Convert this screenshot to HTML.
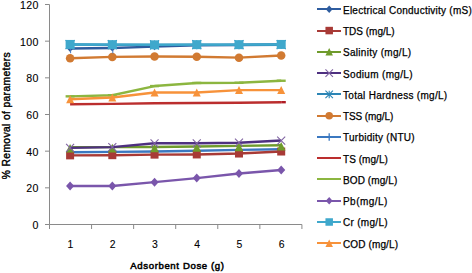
<!DOCTYPE html>
<html><head><meta charset="utf-8"><style>
html,body{margin:0;padding:0;background:#fff;}
body{width:472px;height:273px;position:relative;overflow:hidden;font-family:"Liberation Sans",sans-serif;color:#000;-webkit-text-stroke:0.25px #000;}
svg{position:absolute;left:0;top:0;}
.yl{-webkit-text-stroke:0.1px #000;position:absolute;left:0;width:38.6px;text-align:right;font-size:10.6px;line-height:12px;letter-spacing:0.3px;}
.xl{-webkit-text-stroke:0.1px #000;position:absolute;top:238.6px;width:20px;text-align:center;font-size:10.4px;line-height:12px;}
.lg{position:absolute;left:343px;font-size:10px;line-height:13px;white-space:nowrap;}
.xt{-webkit-text-stroke:0.5px #000;position:absolute;left:130.3px;top:259.4px;font-size:9.6px;font-weight:normal;line-height:13px;white-space:nowrap;letter-spacing:0.62px;}
.yt{-webkit-text-stroke:0.4px #000;position:absolute;left:0;top:0;font-size:10.3px;font-weight:normal;line-height:13px;white-space:nowrap;transform-origin:0 0;letter-spacing:0.36px;}
</style></head><body>
<svg width="472" height="273" viewBox="0 0 472 273">
<path d="M49.5 4.5V224.5H301.92" stroke="#8a8a8a" stroke-width="1" fill="none"/>
<path d="M45 224.50H49.5" stroke="#8a8a8a" stroke-width="1"/>
<path d="M45 187.83H49.5" stroke="#8a8a8a" stroke-width="1"/>
<path d="M45 151.17H49.5" stroke="#8a8a8a" stroke-width="1"/>
<path d="M45 114.50H49.5" stroke="#8a8a8a" stroke-width="1"/>
<path d="M45 77.83H49.5" stroke="#8a8a8a" stroke-width="1"/>
<path d="M45 41.17H49.5" stroke="#8a8a8a" stroke-width="1"/>
<path d="M45 4.50H49.5" stroke="#8a8a8a" stroke-width="1"/>
<path d="M49.50 224.5V229.0" stroke="#8a8a8a" stroke-width="1"/>
<path d="M91.57 224.5V229.0" stroke="#8a8a8a" stroke-width="1"/>
<path d="M133.64 224.5V229.0" stroke="#8a8a8a" stroke-width="1"/>
<path d="M175.71 224.5V229.0" stroke="#8a8a8a" stroke-width="1"/>
<path d="M217.78 224.5V229.0" stroke="#8a8a8a" stroke-width="1"/>
<path d="M259.85 224.5V229.0" stroke="#8a8a8a" stroke-width="1"/>
<path d="M301.92 224.5V229.0" stroke="#8a8a8a" stroke-width="1"/>
<polyline points="70.10,152.25 112.32,151.88 154.54,151.52 196.76,150.78 238.98,149.87 281.20,149.32" stroke="#3b78c0" stroke-width="2.4" fill="none" stroke-linejoin="round"/>
<polyline points="70.10,48.49 112.32,47.94 154.54,46.65 196.76,45.37 238.98,45.00 281.20,44.82" stroke="#2e5c9f" stroke-width="2.4" fill="none" stroke-linejoin="round"/>
<path d="M70.10 44.99L73.25 48.49L70.10 51.99L66.95 48.49Z" fill="#2e5c9f"/>
<path d="M112.32 44.44L115.47 47.94L112.32 51.44L109.17 47.94Z" fill="#2e5c9f"/>
<path d="M154.54 43.15L157.69 46.65L154.54 50.15L151.39 46.65Z" fill="#2e5c9f"/>
<path d="M196.76 41.87L199.91 45.37L196.76 48.87L193.61 45.37Z" fill="#2e5c9f"/>
<path d="M238.98 41.50L242.13 45.00L238.98 48.50L235.83 45.00Z" fill="#2e5c9f"/>
<path d="M281.20 41.32L284.35 44.82L281.20 48.32L278.05 44.82Z" fill="#2e5c9f"/>
<polyline points="70.10,44.54 112.32,44.73 154.54,44.91 196.76,44.73 238.98,44.73 281.20,44.54" stroke="#2c85b5" stroke-width="2.4" fill="none" stroke-linejoin="round"/>
<path d="M70.10 40.04V49.04M65.60 40.04L74.60 49.04M74.60 40.04L65.60 49.04" stroke="#2c85b5" stroke-width="1.1" fill="none"/>
<path d="M112.32 40.23V49.23M107.82 40.23L116.82 49.23M116.82 40.23L107.82 49.23" stroke="#2c85b5" stroke-width="1.1" fill="none"/>
<path d="M154.54 40.41V49.41M150.04 40.41L159.04 49.41M159.04 40.41L150.04 49.41" stroke="#2c85b5" stroke-width="1.1" fill="none"/>
<path d="M196.76 40.23V49.23M192.26 40.23L201.26 49.23M201.26 40.23L192.26 49.23" stroke="#2c85b5" stroke-width="1.1" fill="none"/>
<path d="M238.98 40.23V49.23M234.48 40.23L243.48 49.23M243.48 40.23L234.48 49.23" stroke="#2c85b5" stroke-width="1.1" fill="none"/>
<path d="M281.20 40.04V49.04M276.70 40.04L285.70 49.04M285.70 40.04L276.70 49.04" stroke="#2c85b5" stroke-width="1.1" fill="none"/>
<polyline points="70.10,155.37 112.32,155.18 154.54,154.63 196.76,154.45 238.98,153.53 281.20,151.52" stroke="#a83a36" stroke-width="2.4" fill="none" stroke-linejoin="round"/>
<rect x="66.10" y="151.37" width="8" height="8" fill="#a83a36"/>
<rect x="108.32" y="151.18" width="8" height="8" fill="#a83a36"/>
<rect x="150.54" y="150.63" width="8" height="8" fill="#a83a36"/>
<rect x="192.76" y="150.45" width="8" height="8" fill="#a83a36"/>
<rect x="234.98" y="149.53" width="8" height="8" fill="#a83a36"/>
<rect x="277.20" y="147.52" width="8" height="8" fill="#a83a36"/>
<polyline points="70.10,147.30 112.32,147.12 154.54,146.93 196.76,146.57 238.98,145.83 281.20,145.28" stroke="#6f9b2c" stroke-width="2.4" fill="none" stroke-linejoin="round"/>
<path d="M70.10 144.00L74.40 152.60L65.80 152.60Z" fill="#6f9b2c"/>
<path d="M112.32 143.82L116.62 152.42L108.02 152.42Z" fill="#6f9b2c"/>
<path d="M154.54 143.63L158.84 152.23L150.24 152.23Z" fill="#6f9b2c"/>
<path d="M196.76 143.27L201.06 151.87L192.46 151.87Z" fill="#6f9b2c"/>
<path d="M238.98 142.53L243.28 151.13L234.68 151.13Z" fill="#6f9b2c"/>
<path d="M281.20 141.98L285.50 150.58L276.90 150.58Z" fill="#6f9b2c"/>
<polyline points="70.10,147.85 112.32,147.12 154.54,143.27 196.76,143.27 238.98,142.72 281.20,140.52" stroke="#4e3080" stroke-width="2.4" fill="none" stroke-linejoin="round"/>
<path d="M66.10 143.85L74.10 151.85M74.10 143.85L66.10 151.85" stroke="#8064a2" stroke-width="1.1" fill="none"/>
<path d="M108.32 143.12L116.32 151.12M116.32 143.12L108.32 151.12" stroke="#8064a2" stroke-width="1.1" fill="none"/>
<path d="M150.54 139.27L158.54 147.27M158.54 139.27L150.54 147.27" stroke="#8064a2" stroke-width="1.1" fill="none"/>
<path d="M192.76 139.27L200.76 147.27M200.76 139.27L192.76 147.27" stroke="#8064a2" stroke-width="1.1" fill="none"/>
<path d="M234.98 138.72L242.98 146.72M242.98 138.72L234.98 146.72" stroke="#8064a2" stroke-width="1.1" fill="none"/>
<path d="M277.20 136.52L285.20 144.52M285.20 136.52L277.20 144.52" stroke="#8064a2" stroke-width="1.1" fill="none"/>
<polyline points="70.10,104.22 112.32,103.85 154.54,103.30 196.76,102.94 238.98,102.75 281.20,102.20" stroke="#bb2e2e" stroke-width="2.4" fill="none" stroke-linejoin="round"/>
<path d="M281.20 102.20H285.80" stroke="#b01c24" stroke-width="2.4"/>
<polyline points="70.10,96.34 112.32,95.24 154.54,86.07 196.76,82.95 238.98,82.77 281.20,80.75" stroke="#8cb640" stroke-width="2.4" fill="none" stroke-linejoin="round"/>
<path d="M65.60 96.34H74.60" stroke="#8cb640" stroke-width="2.4"/>
<path d="M107.82 95.24H116.82" stroke="#8cb640" stroke-width="2.4"/>
<path d="M150.04 86.07H159.04" stroke="#8cb640" stroke-width="2.4"/>
<path d="M192.26 82.95H201.26" stroke="#8cb640" stroke-width="2.4"/>
<path d="M234.48 82.77H243.48" stroke="#8cb640" stroke-width="2.4"/>
<path d="M276.70 80.75H285.70" stroke="#8cb640" stroke-width="2.4"/>
<polyline points="70.10,99.27 112.32,97.44 154.54,92.49 196.76,92.49 238.98,90.10 281.20,90.10" stroke="#f7923a" stroke-width="2.4" fill="none" stroke-linejoin="round"/>
<path d="M70.10 95.27L74.10 103.27L66.10 103.27Z" fill="#f7923a"/>
<path d="M112.32 93.44L116.32 101.44L108.32 101.44Z" fill="#f7923a"/>
<path d="M154.54 88.49L158.54 96.49L150.54 96.49Z" fill="#f7923a"/>
<path d="M196.76 88.49L200.76 96.49L192.76 96.49Z" fill="#f7923a"/>
<path d="M238.98 86.10L242.98 94.10L234.98 94.10Z" fill="#f7923a"/>
<path d="M281.20 86.10L285.20 94.10L277.20 94.10Z" fill="#f7923a"/>
<polyline points="70.10,58.20 112.32,56.92 154.54,56.55 196.76,56.74 238.98,57.65 281.20,55.45" stroke="#d17a32" stroke-width="2.4" fill="none" stroke-linejoin="round"/>
<circle cx="70.10" cy="58.20" r="4.25" fill="#d17a32"/>
<circle cx="112.32" cy="56.92" r="4.25" fill="#d17a32"/>
<circle cx="154.54" cy="56.55" r="4.25" fill="#d17a32"/>
<circle cx="196.76" cy="56.74" r="4.25" fill="#d17a32"/>
<circle cx="238.98" cy="57.65" r="4.25" fill="#d17a32"/>
<circle cx="281.20" cy="55.45" r="4.25" fill="#d17a32"/>
<polyline points="70.10,185.98 112.32,185.98 154.54,182.13 196.76,178.10 238.98,173.52 281.20,170.03" stroke="#7a56ab" stroke-width="2.4" fill="none" stroke-linejoin="round"/>
<path d="M70.10 181.48L74.15 185.98L70.10 190.48L66.05 185.98Z" fill="#7a56ab"/>
<path d="M112.32 181.48L116.37 185.98L112.32 190.48L108.27 185.98Z" fill="#7a56ab"/>
<path d="M154.54 177.63L158.59 182.13L154.54 186.63L150.49 182.13Z" fill="#7a56ab"/>
<path d="M196.76 173.60L200.81 178.10L196.76 182.60L192.71 178.10Z" fill="#7a56ab"/>
<path d="M238.98 169.02L243.03 173.52L238.98 178.02L234.93 173.52Z" fill="#7a56ab"/>
<path d="M281.20 165.53L285.25 170.03L281.20 174.53L277.15 170.03Z" fill="#7a56ab"/>
<polyline points="70.10,44.45 112.32,44.64 154.54,44.82 196.76,44.64 238.98,44.64 281.20,44.45" stroke="#3fa8cc" stroke-width="2.4" fill="none" stroke-linejoin="round"/>
<rect x="65.60" y="39.95" width="9" height="9" fill="#3fa8cc"/>
<path d="M70.60 48.95V53.25" stroke="#4a7cc0" stroke-width="1"/>
<rect x="107.82" y="40.14" width="9" height="9" fill="#3fa8cc"/>
<path d="M112.82 49.14V53.44" stroke="#4a7cc0" stroke-width="1"/>
<rect x="150.04" y="40.32" width="9" height="9" fill="#3fa8cc"/>
<rect x="192.26" y="40.14" width="9" height="9" fill="#3fa8cc"/>
<rect x="234.48" y="40.14" width="9" height="9" fill="#3fa8cc"/>
<rect x="276.70" y="39.95" width="9" height="9" fill="#3fa8cc"/>
<path d="M317 9H341" stroke="#2e5c9f" stroke-width="2"/>
<path d="M329.20 5.55L332.57 9.30L329.20 13.05L325.82 9.30Z" fill="#2e5c9f"/>
<path d="M317 31H341" stroke="#a83a36" stroke-width="2"/>
<rect x="325.45" y="26.82" width="7.5" height="7.5" fill="#a83a36"/>
<path d="M317 52H341" stroke="#6f9b2c" stroke-width="2"/>
<path d="M329.20 48.09L332.95 55.59L325.45 55.59Z" fill="#6f9b2c"/>
<path d="M317 73H341" stroke="#4e3080" stroke-width="2"/>
<path d="M325.45 69.36L332.95 76.86M332.95 69.36L325.45 76.86" stroke="#8064a2" stroke-width="1.1" fill="none"/>
<path d="M317 94H341" stroke="#2c85b5" stroke-width="2"/>
<path d="M329.20 90.63V98.13M325.45 90.63L332.95 98.13M332.95 90.63L325.45 98.13" stroke="#2c85b5" stroke-width="1.1" fill="none"/>
<path d="M317 116H341" stroke="#d17a32" stroke-width="2"/>
<circle cx="329.20" cy="115.65" r="3.75" fill="#d17a32"/>
<path d="M317 137H341" stroke="#3b78c0" stroke-width="2"/>
<path d="M329.20 133.17V140.67M325.45 136.92H332.95" stroke="#3b78c0" stroke-width="1.3" fill="none"/>
<path d="M317 158H341" stroke="#bb2e2e" stroke-width="2"/>
<path d="M317 179H341" stroke="#8cb640" stroke-width="2"/>
<path d="M317 201H341" stroke="#7a56ab" stroke-width="2"/>
<path d="M329.20 196.98L332.57 200.73L329.20 204.48L325.82 200.73Z" fill="#7a56ab"/>
<path d="M317 222H341" stroke="#3fa8cc" stroke-width="2"/>
<rect x="325.45" y="218.25" width="7.5" height="7.5" fill="#3fa8cc"/>
<path d="M317 243H341" stroke="#f7923a" stroke-width="2"/>
<path d="M329.20 239.52L332.95 247.02L325.45 247.02Z" fill="#f7923a"/>
</svg>
<div class="yl" style="top:219.10px">0</div><div class="yl" style="top:182.43px">20</div><div class="yl" style="top:145.77px">40</div><div class="yl" style="top:109.10px">60</div><div class="yl" style="top:72.44px">80</div><div class="yl" style="top:35.77px">100</div><div class="yl" style="top:-0.90px">120</div>
<div class="xl" style="left:60.50px">1</div><div class="xl" style="left:102.72px">2</div><div class="xl" style="left:144.94px">3</div><div class="xl" style="left:187.16px">4</div><div class="xl" style="left:229.38px">5</div><div class="xl" style="left:271.60px">6</div>
<div class="lg" style="top:3.70px;letter-spacing:0.24px">Electrical Conductivity (mS)</div><div class="lg" style="top:24.97px;letter-spacing:0.0px">TDS (mg/L)</div><div class="lg" style="top:46.24px;letter-spacing:0.3px">Salinity (mg/L)</div><div class="lg" style="top:67.51px;letter-spacing:0.33px">Sodium (mg/L)</div><div class="lg" style="top:88.78px;letter-spacing:0.29px">Total Hardness (mg/L)</div><div class="lg" style="top:110.05px;letter-spacing:-0.1px">TSS (mg/L)</div><div class="lg" style="top:131.32px;letter-spacing:0.26px">Turbidity (NTU)</div><div class="lg" style="top:152.59px;letter-spacing:0.05px">TS (mg/L)</div><div class="lg" style="top:173.86px;letter-spacing:0.1px">BOD (mg/L)</div><div class="lg" style="top:195.13px;letter-spacing:0.45px">Pb(mg/L)</div><div class="lg" style="top:216.40px;letter-spacing:0.3px">Cr (mg/L)</div><div class="lg" style="top:237.67px;letter-spacing:0.12px">COD (mg/L)</div>
<div class="xt">Adsorbent Dose (g)</div>
<div class="yt" style="transform:translate(-0.5px,179.2px) rotate(-90deg)">% Removal of parameters</div>
</body></html>
